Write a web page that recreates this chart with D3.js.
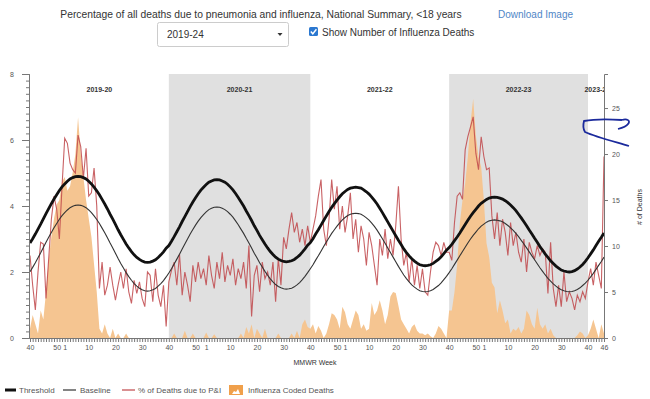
<!DOCTYPE html>
<html>
<head>
<meta charset="utf-8">
<script src="https://cdn.jsdelivr.net/npm/d3@7"></script>
<style>
  body { margin: 0; background: #fff; }
  svg { display: block; font-family: "Liberation Sans", Arial, sans-serif; }
  .axis text { fill: #555; font-size: 7px; }
  .axis path, .axis line { stroke: #777; }
</style>
</head>
<body>
<div id="chart"></div>
<script>
// seasons and weeks
const seasonLabels = ['2019-20', '2020-21', '2021-22', '2022-23', '2023-24']
const seasonLengths = [52, 53, 52, 52, 7]
const labelWeeks = [40, 50, 1, 10, 20, 30]

// % of deaths, baseline
const baseline = [
  2.01, 2.14, 2.28, 2.43, 2.58, 2.74, 2.90, 3.05, 3.20, 3.34, 3.47, 3.60, 3.71, 3.80, 3.88, 3.95, 3.99, 4.02, 4.03, 4.02,
  3.99, 3.95, 3.88, 3.80, 3.70, 3.59, 3.47, 3.33, 3.19, 3.04, 2.88, 2.73, 2.57, 2.41, 2.26, 2.12, 1.98, 1.86, 1.75, 1.65,
  1.57, 1.51, 1.46, 1.43, 1.42, 1.43, 1.46, 1.50, 1.57, 1.65, 1.74, 1.85,
  1.97, 2.10, 2.24, 2.39, 2.54, 2.70, 2.85, 3.00, 3.15, 3.29, 3.42, 3.54, 3.65, 3.74, 3.82, 3.89, 3.93, 3.96, 3.97, 3.96,
  3.93, 3.89, 3.83, 3.75, 3.66, 3.55, 3.43, 3.30, 3.17, 3.02, 2.88, 2.73, 2.57, 2.43, 2.28, 2.15, 2.02, 1.90, 1.79, 1.70,
  1.62, 1.56, 1.52, 1.49, 1.48, 1.49, 1.51, 1.55, 1.61, 1.68, 1.77, 1.87, 1.98,
  2.10, 2.22, 2.36, 2.49, 2.63, 2.77, 2.91, 3.04, 3.17, 3.28, 3.39, 3.49, 3.58, 3.65, 3.71, 3.75, 3.77, 3.78, 3.77, 3.75,
  3.70, 3.64, 3.57, 3.48, 3.38, 3.27, 3.14, 3.01, 2.87, 2.73, 2.59, 2.45, 2.31, 2.17, 2.04, 1.91, 1.80, 1.70, 1.61, 1.54,
  1.48, 1.43, 1.41, 1.40, 1.41, 1.43, 1.47, 1.53, 1.59, 1.67, 1.77, 1.87,
  1.98, 2.10, 2.23, 2.36, 2.49, 2.62, 2.75, 2.88, 3.00, 3.11, 3.21, 3.31, 3.39, 3.45, 3.51, 3.55, 3.57, 3.58, 3.57, 3.55,
  3.52, 3.47, 3.41, 3.34, 3.26, 3.17, 3.07, 2.96, 2.85, 2.73, 2.61, 2.49, 2.37, 2.25, 2.13, 2.02, 1.91, 1.81, 1.72, 1.64,
  1.57, 1.51, 1.46, 1.43, 1.41, 1.40, 1.41, 1.43, 1.47, 1.52, 1.59, 1.66,
  1.75, 1.85, 1.96, 2.08, 2.20, 2.32, 2.45
]

// % of deaths, epidemic threshold
const threshold = [
  2.88, 3.01, 3.15, 3.30, 3.45, 3.61, 3.77, 3.92, 4.07, 4.21, 4.34, 4.47, 4.58, 4.67, 4.75, 4.82, 4.86, 4.89, 4.90, 4.89,
  4.86, 4.82, 4.75, 4.67, 4.57, 4.46, 4.34, 4.20, 4.06, 3.91, 3.75, 3.60, 3.44, 3.28, 3.13, 2.99, 2.85, 2.73, 2.62, 2.52,
  2.44, 2.38, 2.33, 2.30, 2.29, 2.30, 2.33, 2.37, 2.44, 2.52, 2.61, 2.72,
  2.80, 2.93, 3.07, 3.22, 3.37, 3.53, 3.68, 3.83, 3.98, 4.12, 4.25, 4.37, 4.48, 4.57, 4.65, 4.72, 4.76, 4.79, 4.80, 4.79,
  4.76, 4.72, 4.66, 4.58, 4.49, 4.38, 4.26, 4.13, 4.00, 3.85, 3.71, 3.56, 3.40, 3.26, 3.11, 2.98, 2.85, 2.73, 2.62, 2.53,
  2.45, 2.39, 2.35, 2.32, 2.31, 2.32, 2.34, 2.38, 2.44, 2.51, 2.60, 2.70, 2.81,
  2.89, 3.01, 3.15, 3.28, 3.42, 3.56, 3.70, 3.83, 3.96, 4.07, 4.18, 4.28, 4.37, 4.44, 4.50, 4.54, 4.56, 4.57, 4.56, 4.54,
  4.49, 4.43, 4.36, 4.27, 4.17, 4.06, 3.93, 3.80, 3.66, 3.52, 3.38, 3.24, 3.10, 2.96, 2.83, 2.70, 2.59, 2.49, 2.40, 2.33,
  2.27, 2.22, 2.20, 2.19, 2.20, 2.22, 2.26, 2.32, 2.38, 2.46, 2.56, 2.66,
  2.74, 2.84, 2.95, 3.06, 3.18, 3.31, 3.44, 3.57, 3.69, 3.80, 3.90, 4.00, 4.08, 4.14, 4.20, 4.24, 4.26, 4.27, 4.26, 4.24,
  4.21, 4.16, 4.10, 4.03, 3.95, 3.86, 3.75, 3.64, 3.52, 3.40, 3.27, 3.15, 3.02, 2.90, 2.77, 2.66, 2.54, 2.44, 2.34, 2.26,
  2.18, 2.12, 2.06, 2.03, 2.01, 2.00, 2.01, 2.04, 2.09, 2.15, 2.23, 2.32,
  2.43, 2.55, 2.67, 2.80, 2.93, 3.05, 3.18
]

// % of deaths due to pneumonia and influenza
const pctPI = [
  2.5, 1.6, 0.85, 2.0, 2.9, 2.85, 1.2, 2.4, 3.6, 4.3, 3.9, 3.0, 4.6, 6.05, 5.9, 5.3, 5.1, 5.0, 6.15, 5.8,
  4.85, 5.75, 4.3, 4.4, 5.15, 4.0, 1.5, 2.3, 1.3, 1.6, 2.15, 1.6, 1.15, 1.6, 2.0, 1.5, 2.1, 1.4, 1.05, 1.75,
  1.35, 1.7, 1.2, 0.95, 2.0, 1.9, 1.1, 2.1, 1.3, 0.95, 1.6, 0.35,
  1.7, 2.05, 2.3, 1.6, 2.55, 1.3, 2.0, 1.6, 1.1, 2.2, 1.7, 2.3, 1.8, 2.1, 1.6, 2.5, 1.9, 1.5, 2.3, 1.8,
  2.6, 1.7, 2.2, 1.9, 2.4, 1.6, 2.1, 1.8, 2.3, 1.5, 2.8, 0.65, 1.9, 2.2, 1.4, 2.3, 1.8, 2.0, 1.6, 2.3,
  1.1, 2.4, 1.6, 3.05, 2.7, 3.3, 3.8, 3.2, 3.5, 2.9, 3.3, 2.8, 3.4,
  2.9, 3.3, 3.7, 4.3, 4.8, 3.3, 2.8, 3.6, 4.8, 3.9, 4.6, 3.3, 4.0, 3.2, 3.7, 4.4, 3.0, 3.6, 2.6, 3.4,
  3.0, 2.2, 3.2, 2.8, 2.2, 1.6, 3.0, 2.5, 3.3, 2.4, 3.0, 2.5, 3.4, 4.6, 3.0, 2.2, 2.6, 1.7, 2.4, 1.6,
  2.2, 1.5, 2.1, 1.4, 1.3, 2.0, 2.6, 2.9, 2.8, 2.5, 2.9, 2.6,
  2.6, 2.35, 3.5, 4.3, 4.4, 4.2, 5.7, 6.1, 6.4, 6.7, 5.6, 5.1, 6.1, 5.5, 5.1, 5.15, 3.7, 3.0, 3.8, 2.8,
  3.6, 3.2, 2.5, 3.5, 2.8, 3.2, 2.6, 2.3, 3.0, 2.0, 2.9, 2.6, 2.4, 2.8, 2.5, 2.7, 2.6, 1.35, 2.9, 1.5,
  0.95, 1.6, 0.95, 2.0, 1.1, 1.4, 1.2, 0.85, 1.3, 1.1, 1.4, 1.2,
  1.7, 2.1, 1.6, 2.3, 1.9, 1.5, 5.5
]

// number of influenza coded deaths
const fluDeaths = [
  1.0, 2.5, 1.5, 0.5, 3.0, 2.0, 5.0, 8.5, 11.0, 13.0, 14.5, 15.0, 17.0, 17.5, 16.0, 16.5, 18.0, 20.0, 24.0, 20.0,
  17.5, 15.0, 13.0, 11.0, 8.0, 5.0, 1.0, 0.5, 1.5, 0.5, 0, 1.0, 0, 0.5, 0, 0, 0.5, 0, 0, 0,
  0, 0, 0, 0, 0, 0, 0, 0, 0, 0, 0, 0,
  0, 0, 0.5, 0, 0, 0, 0.8, 0, 0, 0.5, 0, 0, 0, 0, 0.6, 0, 0, 0.4, 0, 0,
  0, 0, 0, 0, 0, 0, 0, 0.5, 0, 1.2, 0.5, 1.5, 0, 1.0, 0.5, 0, 1.0, 0, 0, 0,
  0, 0.5, 0, 0, 0, 0, 0.5, 0, 0.8, 0, 1.5, 2.0, 1.2,
  1.0, 1.5, 0.5, 1.3, 0.8, 0, 0.5, 1.5, 2.7, 2.5, 2.0, 1.0, 3.4, 2.8, 1.5, 1.0, 2.0, 3.0, 2.5, 1.0,
  1.5, 0.8, 1.0, 3.8, 2.5, 3.0, 4.1, 3.0, 1.5, 2.5, 4.5, 5.0, 4.9, 3.5, 2.0, 1.5, 1.0, 0.5, 1.2, 1.5,
  0.8, 0.5, 0.5, 0.3, 0.5, 0.2, 0, 0.5, 1.3, 1.0, 0.5, 0,
  3.0, 3.0, 5.0, 8.0, 12.5, 15.0, 16.8, 19.7, 23.4, 26.0, 22.0, 19.7, 18.6, 15.0, 10.3, 8.8, 6.0, 5.5, 2.7, 4.1,
  3.0, 1.6, 2.0, 0.5, 1.0, 0.8, 1.2, 0.5, 1.0, 3.0, 2.5, 1.5, 1.0, 3.3, 1.5, 1.0, 1.5, 0.5, 1.0, 0.3,
  0, 0, 0, 0, 0, 0, 0, 0, 0.3, 0.7, 0.5, 0,
  0.3, 1.0, 2.0, 1.0, 0, 1.5, 0.5
]

// sizes
const width = 650
const height = 399
const plot = { left: 30, right: 604, top: 74, bottom: 338 }

// week numbers along the axis
const weeks = []
const seasonStarts = []
seasonLengths.forEach(len => {
  seasonStarts.push(weeks.length)
  const yearEnd = len === 53 ? 53 : 52
  for (let k = 0; k < len; k++) {
    const w = 40 + k
    weeks.push(w > yearEnd ? w - yearEnd : w)
  }
})
const last = weeks.length - 1

const svg = d3.select('#chart').append('svg')
  .attr('width', width)
  .attr('height', height)

// scales
const x = d3.scaleLinear().domain([0, last]).range([plot.left, plot.right])
const y = d3.scaleLinear().domain([0, 8]).range([plot.bottom, plot.top])
const y2 = d3.scaleLinear().domain([0, 28.7]).range([plot.bottom, plot.top])

svg.append('clipPath').attr('id', 'clip')
  .append('rect')
  .attr('x', plot.left - 2).attr('y', plot.top)
  .attr('width', plot.right - plot.left + 2).attr('height', plot.bottom - plot.top)

const g = svg.append('g').attr('clip-path', 'url(#clip)')

// season bands and labels
seasonLabels.forEach((s, i) => {
  const x0 = x(seasonStarts[i])
  const x1 = x(Math.min(seasonStarts[i] + seasonLengths[i], last))
  if (i % 2 === 1) {
    g.append('rect')
      .attr('x', x0).attr('y', plot.top)
      .attr('width', x1 - x0).attr('height', plot.bottom - plot.top)
      .attr('fill', '#e0e0e0')
  }
  g.append('text')
    .attr('x', (x(seasonStarts[i]) + x(seasonStarts[i] + seasonLengths[i])) / 2)
    .attr('y', 92)
    .attr('text-anchor', 'middle')
    .style('font-size', '7px')
    .style('font-weight', 'bold')
    .style('fill', '#333')
    .text(s)
})

// influenza deaths area
g.append('path')
  .datum(fluDeaths)
  .attr('fill', '#f5c591')
  .attr('d', d3.area().x((d, i) => x(i)).y0(y2(0)).y1(d => y2(d)))

const line = d3.line().x((d, i) => x(i)).y(d => y(d))

g.append('path')
  .datum(pctPI)
  .attr('fill', 'none')
  .attr('stroke', '#c0474a')
  .attr('stroke-opacity', 0.85)
  .attr('stroke-width', 1.1)
  .attr('d', line)

g.append('path')
  .datum(baseline)
  .attr('fill', 'none')
  .attr('stroke', '#333')
  .attr('stroke-width', 1.1)
  .attr('d', line)

g.append('path')
  .datum(threshold)
  .attr('fill', 'none')
  .attr('stroke', '#111')
  .attr('stroke-width', 2.8)
  .attr('d', line)

// axes
svg.append('g').attr('class', 'axis')
  .attr('transform', `translate(${plot.left - 1},0)`)
  .call(d3.axisLeft(y).tickValues(d3.range(0, 41).map(k => k * 0.2)).tickSize(3).tickFormat(''))

svg.append('g').attr('class', 'axis')
  .attr('transform', `translate(${plot.left - 1},0)`)
  .call(d3.axisLeft(y).tickValues([0, 2, 4, 6, 8]).tickSize(7).tickPadding(8).tickFormat(d3.format('d')))

svg.append('g').attr('class', 'axis')
  .attr('transform', `translate(${plot.right},0)`)
  .call(d3.axisRight(y2).tickValues([0, 5, 10, 15, 20, 25]).tickSize(4).tickPadding(4))

svg.append('g').attr('class', 'axis')
  .attr('transform', `translate(0,${plot.bottom})`)
  .call(d3.axisBottom(x)
    .tickValues(d3.range(weeks.length))
    .tickSize(4)
    .tickSizeOuter(0)
    .tickPadding(3)
    .tickFormat(i => (labelWeeks.includes(weeks[i]) || i === last) ? weeks[i] : ''))

svg.append('text')
  .attr('x', 315).attr('y', 365)
  .attr('text-anchor', 'middle')
  .style('font-size', '7px').style('fill', '#333')
  .text('MMWR Week')

svg.append('text')
  .attr('transform', 'translate(642,207) rotate(-90)')
  .attr('text-anchor', 'middle')
  .style('font-size', '7px').style('fill', '#333')
  .text('# of Deaths')

// header
svg.append('text')
  .attr('x', 261).attr('y', 18)
  .attr('text-anchor', 'middle')
  .style('font-size', '10.3px').style('fill', '#333')
  .text('Percentage of all deaths due to pneumonia and influenza, National Summary, <18 years')

svg.append('text')
  .attr('x', 498).attr('y', 18)
  .style('font-size', '10px').style('fill', '#4f86c6')
  .text('Download Image')

svg.append('rect')
  .attr('x', 157.5).attr('y', 22.5).attr('width', 131).attr('height', 24).attr('rx', 2)
  .attr('fill', '#fff').attr('stroke', '#ccc')
svg.append('text')
  .attr('x', 167).attr('y', 38)
  .style('font-size', '10px').style('fill', '#333')
  .text('2019-24')
svg.append('path')
  .attr('d', 'M277.5,33 L282.5,33 L280,36 Z')
  .attr('fill', '#333')

svg.append('rect')
  .attr('x', 309).attr('y', 27).attr('width', 9).attr('height', 9).attr('rx', 1.5)
  .attr('fill', '#2b78d0')
svg.append('path')
  .attr('d', 'M310.8,31.5 L312.8,33.8 L316.4,29.2')
  .attr('fill', 'none').attr('stroke', '#fff').attr('stroke-width', 1.4)
svg.append('text')
  .attr('x', 322).attr('y', 36)
  .style('font-size', '10px').style('fill', '#333')
  .text('Show Number of Influenza Deaths')

// legend
const legend = svg.append('g').attr('transform', 'translate(0,390)')
  .style('font-size', '8px').style('fill', '#555')
legend.append('line').attr('x1', 5).attr('x2', 16).attr('stroke', '#111').attr('stroke-width', 3)
legend.append('text').attr('x', 19).attr('y', 3).text('Threshold')
legend.append('line').attr('x1', 63).attr('x2', 76).attr('stroke', '#333').attr('stroke-width', 1.2)
legend.append('text').attr('x', 80).attr('y', 3).text('Baseline')
legend.append('line').attr('x1', 122).attr('x2', 135).attr('stroke', '#c0474a').attr('stroke-width', 1.2)
legend.append('text').attr('x', 138).attr('y', 3).text('% of Deaths due to P&I')
legend.append('rect').attr('x', 229).attr('y', -5).attr('width', 14).attr('height', 10).attr('fill', '#f0a04b')
legend.append('path').attr('d', 'M232,4 L234,1 L236,2 L238,-1 L240,4 Z').attr('fill', '#fff')
legend.append('text').attr('x', 248).attr('y', 3).text('Influenza Coded Deaths')

// hand drawn mark
svg.append('path')
  .attr('d', 'M622,120 C608,119 594,119 584,121 C583,125 583,129 585,132 C596,137 612,141 629,146 M622,120 C627,118 631,121 628,124 C626,127 622,128 618,129')
  .attr('fill', 'none').attr('stroke', '#1b2a9c').attr('stroke-width', 1.8)
</script>
</body>
</html>
